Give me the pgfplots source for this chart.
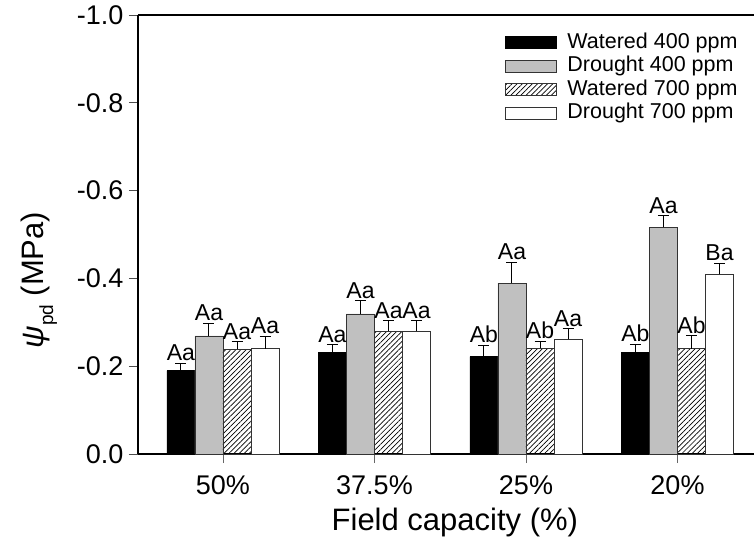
\documentclass[border=0pt]{standalone}
\usepackage{fontspec}
\setmainfont{Liberation Sans}
\usepackage{pgfplots}
\pgfplotsset{compat=1.18}
\usepackage{pgfplotstable}
\usetikzlibrary{patterns.meta}
\definecolor{bargray}{RGB}{192,192,192}

\pgfplotstableread{
x y e lab
-0.2775 0.190 0.017 Aa
0.7225 0.231 0.018 Aa
1.7225 0.222 0.026 Ab
2.7225 0.231 0.019 Ab
}\wfour
\pgfplotstableread{
x y e lab
-0.0925 0.269 0.029 Aa
0.9075 0.319 0.030 Aa
1.9075 0.389 0.048 Aa
2.9075 0.516 0.027 Aa
}\dfour
\pgfplotstableread{
x y e lab
0.0925 0.239 0.017 Aa
1.0925 0.280 0.024 Aa
2.0925 0.241 0.016 Ab
3.0925 0.240 0.030 Ab
}\wseven
\pgfplotstableread{
x y e lab
0.2775 0.240 0.028 Aa
1.2775 0.280 0.023 Aa
2.2775 0.261 0.025 Aa
3.2775 0.409 0.026 Ba
}\dseven

\pgfplotsset{letters/.style={ybar=0pt, draw=none, fill=none, forget plot, error bars/y dir=none,
  nodes near coords, point meta=explicit symbolic,
  nodes near coords style={anchor=south, inner sep=1pt, yshift=1pt, font=\fontsize{23}{25}\selectfont, black}}}

\begin{document}
\begin{tikzpicture}
\begin{axis}[
  at={(0,0)}, anchor=south west,
  x=151.5pt, y=439pt,
  xmin=-0.561, xmax=3.597, ymin=0, ymax=1,
  axis lines*=left,
  axis line style={line width=2.6pt},
  xtick={0,1,2,3},
  xticklabels={50\%,37.5\%,25\%,20\%},
  ytick={0,0.2,0.4,0.6,0.8,1.0},
  yticklabels={0.0,-0.2,-0.4,-0.6,-0.8,-1.0},
  tick style={line width=0.8pt, black!70},
  x tick style={black!60},
  major tick length=9pt,
  xtick align=outside, ytick align=outside,
  tick label style={font=\fontsize{27}{30}\selectfont},
  xticklabel style={yshift=-9pt},
  yticklabel style={xshift=-2pt},
  xlabel={Field capacity (\%)},
  ylabel={\textit{ψ}\raisebox{-0.3em}{\fontsize{19}{20}\selectfont pd} (MPa)},
  label style={font=\fontsize{31}{34}\selectfont},
  x label style={at={(axis description cs:0.503,-0.155)}, anchor=center},
  y label style={at={(axis description cs:-0.157,0.396)}, anchor=center},
  ybar, bar width=0.185, bar shift=0pt,
  legend cell align=left,
  legend style={draw=none, fill=none, at={(axis description cs:0.5825,0.962)}, anchor=north west,
    font=\fontsize{21.5}{23}\selectfont, inner sep=0pt, row sep=1.5pt, column sep=9pt,
    nodes={inner sep=1.5pt, text depth=4pt, text height=15pt}},
  legend image code/.code={\draw[#1, line width=0.8pt] (0pt,-6pt) rectangle (51pt,6pt);},
  error bars/y dir=plus, error bars/y explicit,
  error bars/error bar style={line width=1pt, black},
  error bars/error mark options={rotate=90, mark size=5.5pt, line width=1pt, black},
  clip=false,
]
\addplot[fill=black, draw=black, line width=0.8pt] table[x=x, y=y, y error=e] {\wfour};
\addlegendentry{Watered 400 ppm}
\addplot[fill=bargray, draw=black!80, line width=0.8pt] table[x=x, y=y, y error=e] {\dfour};
\addlegendentry{Drought 400 ppm}
\addplot[pattern={Lines[angle=45, distance=3.6pt, line width=0.7pt]}, draw=black!80, line width=0.8pt] table[x=x, y=y, y error=e] {\wseven};
\addlegendentry{Watered 700 ppm}
\addplot[fill=white, draw=black!80, line width=0.8pt] table[x=x, y=y, y error=e] {\dseven};
\addlegendentry{Drought 700 ppm}

\addplot[letters] table[x=x, y expr=\thisrow{y}+\thisrow{e}, meta=lab] {\wfour};
\addplot[letters] table[x=x, y expr=\thisrow{y}+\thisrow{e}, meta=lab] {\dfour};
\addplot[letters] table[x=x, y expr=\thisrow{y}+\thisrow{e}, meta=lab] {\wseven};
\addplot[letters] table[x=x, y expr=\thisrow{y}+\thisrow{e}, meta=lab] {\dseven};

\draw[line width=2.6pt] (rel axis cs:0,1) -- (rel axis cs:1,1);
\end{axis}
\pgfresetboundingbox
\path (-138pt,-96pt) rectangle (616pt,454pt);
\end{tikzpicture}
\end{document}
